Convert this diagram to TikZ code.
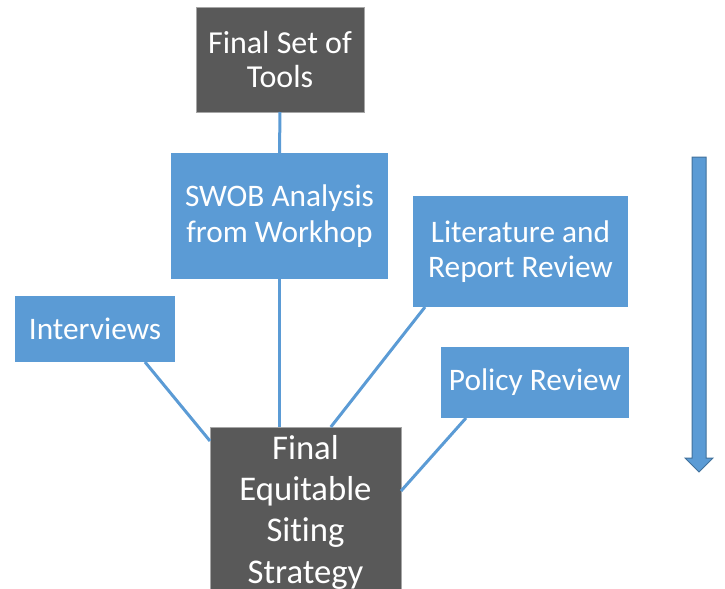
\documentclass[tikz,border=0pt]{standalone}
\usepackage{fontspec}
\setmainfont[Ligatures=NoCommon]{Carlito}
\definecolor{boxgray}{HTML}{595959}
\definecolor{boxblue}{HTML}{5B9BD5}
\definecolor{edgeblue}{HTML}{41719C}
\tikzset{
  darkbox/.style={fill=boxgray, draw=gray!70, line width=0.6pt, text=white,
    align=center, inner sep=0pt, outer sep=0pt, font=\fontsize{24}{26}\selectfont},
  bluebox/.style={fill=boxblue, text=white, align=center, inner sep=0pt,
    outer sep=0pt, font=\fontsize{23.5}{26.5}\selectfont},
  link/.style={draw=boxblue, line width=2.25pt}
}
\begin{document}
\begin{tikzpicture}[x=0.75pt, y=-0.75pt]
\useasboundingbox (0,0) rectangle (725,589);

% Top and bottom boxes
\node[darkbox, minimum width=126pt, minimum height=78.75pt]
    (tools) at (280,59.5) {Final Set of\\Tools};
\node[darkbox, minimum width=143.25pt, minimum height=127.5pt,
    font=\fontsize{26}{31}\selectfont]
    (final) at (305.5,512) {Final\\Equitable\\Siting\\Strategy};

% Input boxes
\node[bluebox, minimum width=162.75pt, minimum height=94.5pt]
    (swob) at (279.5,216) {SWOB Analysis\\from Workhop};
\node[bluebox, minimum width=161.25pt, minimum height=83.25pt]
    (lit) at (520.5,251.5) {Literature and\\Report Review};
\node[bluebox, minimum width=120pt, minimum height=49.5pt]
    (int) at (95,329) {Interviews};
\node[bluebox, minimum width=141pt, minimum height=53.25pt]
    (pol) at (535,382.5) {Policy Review};

% Connectors
\draw[link] (tools.south) -- (swob.north);
\draw[link] (swob.south) -- (swob.south |- final.north);
\draw[link] ([xshift=-22.5pt]int.south east) -- ([yshift=-10.5pt]final.north west);
\draw[link] ([xshift=9pt]lit.south west) -- ([xshift=19pt]final.north);
\draw[link] ([xshift=18.75pt]pol.south west) -- ([yshift=15.75pt]final.east);

% Direction arrow
\filldraw[fill=boxblue, draw=edgeblue, line width=0.75pt]
    (692,157) -- (706,157) -- (706,458) -- (713,458) -- (699,472)
    -- (685,458) -- (692,458) -- cycle;

\end{tikzpicture}
\end{document}
